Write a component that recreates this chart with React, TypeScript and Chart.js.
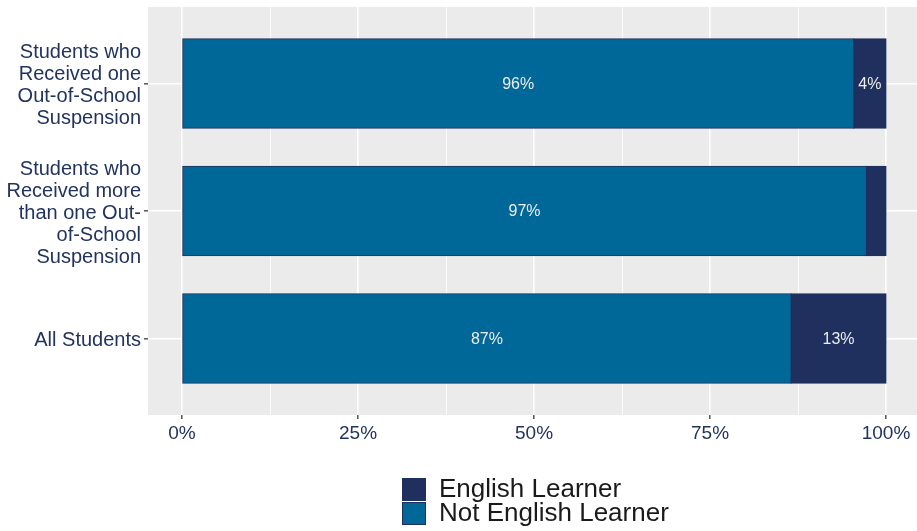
import React, { useEffect, useRef } from "react";
import { Chart, registerables } from "chart.js";

Chart.register(...registerables);

const categories: string[][] = [
  ["Students who", "Received one", "Out-of-School", "Suspension"],
  ["Students who", "Received more", "than one Out-", "of-School", "Suspension"],
  ["All Students"],
];
const notELValues = [95.4, 97.2, 86.5];
const elValues = [4.6, 2.8, 13.5];
const notELLabels = ["96%", "97%", "87%"];
const elLabels = ["4%", "", "13%"];
const seriesNames = ["English Learner", "Not English Learner"];
const xTickValues = [0, 12.5, 25, 37.5, 50, 62.5, 75, 87.5, 100];
const xMajorTicks = [0, 25, 50, 75, 100];

const NAVY = "#1F2F5E";
const BLUE = "#006898";
const AXIS_TEXT = "#22335F";
const FONT = "'Liberation Sans', Arial, sans-serif";

export default function App() {
  const ref = useRef<HTMLCanvasElement | null>(null);
  useEffect(() => {
    document.body.style.margin = "0";
    const canvas = ref.current!;
    const panelBg = {
      id: "panelBg",
      beforeDraw(chart: any) {
        const { ctx, chartArea: a } = chart;
        ctx.save();
        ctx.fillStyle = "#EBEBEB";
        ctx.fillRect(a.left, a.top, a.right - a.left, a.bottom - a.top);
        ctx.restore();
      },
    };
    const barLabels = {
      id: "barLabels",
      afterDatasetsDraw(chart: any) {
        const { ctx } = chart;
        ctx.save();
        ctx.fillStyle = "#EDEDED";
        ctx.font = `16px ${FONT}`;
        ctx.textAlign = "center";
        ctx.textBaseline = "middle";
        const labelSets = [notELLabels, elLabels];
        [0, 1].forEach((di) => {
          const meta = chart.getDatasetMeta(di);
          meta.data.forEach((el: any, i: number) => {
            const t = labelSets[di][i];
            if (!t) return;
            const x = (el.x + el.base) / 2;
            ctx.fillText(t, x, el.y + 1);
          });
        });
        ctx.restore();
      },
    };
    const legendPlugin = {
      id: "customLegend",
      afterDraw(chart: any) {
        const { ctx } = chart;
        ctx.save();
        const items = [
          { name: seriesNames[0], color: NAVY, y: 478 },
          { name: seriesNames[1], color: BLUE, y: 502 },
        ];
        items.forEach((it) => {
          ctx.fillStyle = it.color;
          ctx.fillRect(402, it.y, 24, 23);
          ctx.strokeStyle = NAVY;
          ctx.lineWidth = 1;
          ctx.strokeRect(402.5, it.y + 0.5, 23, 22);
          ctx.fillStyle = "#1A1A1A";
          ctx.font = `26px ${FONT}`;
          ctx.textAlign = "left";
          ctx.textBaseline = "middle";
          ctx.fillText(it.name, 439, it.y + 12);
        });
        ctx.restore();
      },
    };
    const mk = (vals: number[]) => vals.map((v, i) => ({ x: v, y: i }));
    const chart = new Chart(canvas, {
      type: "bar",
      data: {
        datasets: [
          {
            label: seriesNames[1],
            data: mk(notELValues),
            backgroundColor: BLUE,
            borderColor: NAVY,
            borderWidth: 1,
            borderSkipped: false,
            inflateAmount: 0.6,
            barPercentage: 0.7,
            categoryPercentage: 1,
          },
          {
            label: seriesNames[0],
            data: mk(elValues),
            backgroundColor: NAVY,
            borderColor: NAVY,
            borderWidth: 1,
            borderSkipped: false,
            inflateAmount: 0.6,
            barPercentage: 0.7,
            categoryPercentage: 1,
          },
        ],
      },
      options: {
        indexAxis: "y",
        animation: false,
        responsive: false,
        maintainAspectRatio: false,
        layout: { padding: { top: 7, right: 0, bottom: 0, left: 0 } },
        plugins: {
          legend: { display: false },
          tooltip: { enabled: false },
        },
        scales: {
          x: {
            type: "linear",
            stacked: true,
            min: -4.83,
            max: 104.4,
            afterBuildTicks(scale: any) {
              scale.ticks = xTickValues.map((v) => ({ value: v }));
            },
            afterFit(scale: any) {
              scale.height = 116;
              scale.paddingLeft = 0;
              scale.paddingRight = 0;
              scale.paddingTop = 0;
              scale.paddingBottom = 0;
            },
            border: { display: false },
            grid: {
              color: "#FFFFFF",
              lineWidth: (c: any) =>
                xMajorTicks.includes(c.tick?.value) ? 1.6 : 0.8,
              tickLength: 4,
              tickColor: (c: any) =>
                xMajorTicks.includes(c.tick?.value) ? "#555555" : "rgba(0,0,0,0)",
              tickWidth: 1.5,
            },
            ticks: {
              autoSkip: false,
              maxRotation: 0,
              padding: 3,
              color: AXIS_TEXT,
              font: { size: 19, family: FONT },
              callback: (v: any) =>
                xMajorTicks.includes(Number(v)) ? `${Number(v)}%` : "",
            },
          },
          y: {
            type: "linear",
            stacked: true,
            reverse: true,
            offset: false,
            min: -0.6,
            max: 2.6,
            afterBuildTicks(scale: any) {
              scale.ticks = categories.map((_, i) => ({ value: i }));
            },
            afterFit(scale: any) {
              scale.width = 148;
              scale.paddingLeft = 0;
              scale.paddingRight = 0;
              scale.paddingTop = 0;
              scale.paddingBottom = 0;
            },
            border: { display: false },
            grid: {
              color: "#FFFFFF",
              lineWidth: 1.6,
              offset: false,
              tickLength: 4,
              tickColor: "#555555",
              tickWidth: 1.5,
            },
            ticks: {
              autoSkip: false,
              padding: 3,
              labelOffset: 2,
              color: AXIS_TEXT,
              font: { size: 20, family: FONT, lineHeight: 1.1 },
              callback: (v: any) => categories[Number(v)] ?? "",
            },
          },
        },
      } as any,
      plugins: [panelBg, barLabels, legendPlugin],
    });
    return () => chart.destroy();
  }, []);
  return (
    <div style={{ width: 917, height: 531, background: "#FFFFFF" }}>
      <canvas ref={ref} width={917} height={531} style={{ display: "block" }} />
    </div>
  );
}
